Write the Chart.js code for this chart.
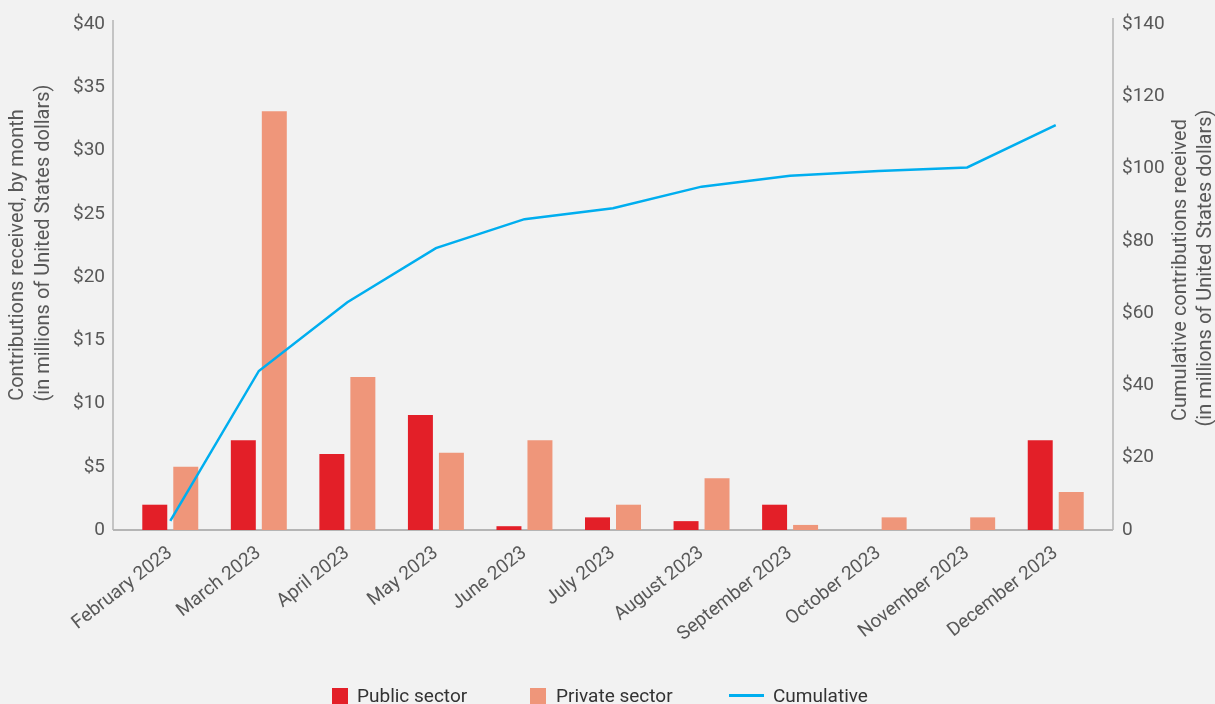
<!DOCTYPE html>
<html>
<head>
<meta charset="utf-8">
<script src="https://cdn.jsdelivr.net/npm/chart.js@4"></script>
<style>
  html, body { margin: 0; padding: 0; background: #f2f2f2; }
  #wrap { position: relative; width: 1215px; height: 704px; overflow: hidden; }
  #legend { position: absolute; top: 685px; left: 0; width: 1215px; height: 22px;
            font-family: Roboto, "Liberation Sans", sans-serif; font-size: 19px; color: #333; }
  .item { position: absolute; top: 0; height: 22px; line-height: 22px; white-space: nowrap; }
  .sw { display: inline-block; vertical-align: middle; position: relative; top: -1px; }
</style>
</head>
<body>
<div id="wrap">
  <canvas id="myChart" width="1215" height="704"></canvas>
  <div id="legend">
    <div class="item" style="left:332px"><span class="sw" style="width:16px;height:16px;background:#e31f28;margin-right:9px"></span>Public sector</div>
    <div class="item" style="left:530px"><span class="sw" style="width:16px;height:16px;background:#ef967a;margin-right:10px"></span>Private sector</div>
    <div class="item" style="left:729px"><span class="sw" style="width:35px;height:3px;background:#00aeef;margin-right:9px"></span>Cumulative</div>
  </div>
</div>
<script>
// data
const months = ['February 2023', 'March 2023', 'April 2023', 'May 2023', 'June 2023', 'July 2023',
  'August 2023', 'September 2023', 'October 2023', 'November 2023', 'December 2023'];
const publicSector = [2, 7.1, 6, 9.1, 0.3, 1, 0.7, 2, 0, 0, 7.1];
const privateSector = [5, 33.1, 12.1, 6.1, 7.1, 2, 4.1, 0.4, 1, 1, 3];
const cumulative = [2.5, 44, 63, 78, 86, 89, 95, 98, 99.3, 100.3, 112];

const leftTitle = ['Contributions received, by month', '(in millions of United States dollars)'];
const rightTitle = ['Cumulative contributions received', '(in millions of United States dollars)'];

const FONT = "Roboto, 'Liberation Sans', sans-serif";
const GREY = '#585858';

// axis lines + rotated titles
const axisPlugin = {
  id: 'axisPlugin',
  beforeDatasetsDraw(chart) {
    const ctx = chart.ctx, a = chart.chartArea;
    const l = a.left - 13, r = a.right + 13;
    ctx.save();
    ctx.strokeStyle = '#b5b5b5';
    ctx.lineWidth = 1.5;
    ctx.beginPath();
    ctx.moveTo(l, 20); ctx.lineTo(l, a.bottom);
    ctx.moveTo(r, 18); ctx.lineTo(r, a.bottom);
    ctx.stroke();
    ctx.lineWidth = 2;
    ctx.beginPath();
    ctx.moveTo(l, a.bottom); ctx.lineTo(r, a.bottom);
    ctx.stroke();
    ctx.restore();
  },
  afterDraw(chart) {
    const ctx = chart.ctx;
    ctx.save();
    ctx.fillStyle = GREY;
    ctx.font = '20px ' + FONT;
    ctx.textAlign = 'center';
    ctx.textBaseline = 'middle';
    const put = (txt, x, y) => {
      ctx.save(); ctx.translate(x, y); ctx.rotate(-Math.PI / 2);
      ctx.fillText(txt, 0, 0); ctx.restore();
    };
    put(leftTitle[0], 18, 255);
    put(leftTitle[1], 44, 243);
    put(rightTitle[0], 1181, 270);
    put(rightTitle[1], 1206, 268);
    ctx.restore();
  }
};

const data = {
  labels: months,
  datasets: [{
    type: 'line',
    label: 'Cumulative',
    data: cumulative,
    yAxisID: 'y1',
    borderColor: '#00aeef',
    borderWidth: 2.5,
    pointRadius: 0,
    tension: 0,
    order: 0
  }, {
    label: 'Public sector',
    data: publicSector,
    backgroundColor: '#e31f28',
    yAxisID: 'y',
    order: 1,
    categoryPercentage: 0.7,
    barPercentage: 0.806
  }, {
    label: 'Private sector',
    data: privateSector,
    backgroundColor: '#ef967a',
    yAxisID: 'y',
    order: 1,
    categoryPercentage: 0.7,
    barPercentage: 0.806
  }]
};

const config = {
  type: 'bar',
  data,
  plugins: [axisPlugin],
  options: {
    responsive: false,
    animation: false,
    layout: { padding: { top: 24, left: 0, right: 0, bottom: 0 } },
    scales: {
      x: {
        grid: { display: false, drawTicks: false },
        border: { display: false },
        afterFit: (s) => { s.height = 704 - 530; },
        ticks: {
          color: GREY,
          padding: 12,
          minRotation: 38,
          maxRotation: 38,
          autoSkip: false,
          font: { size: 19, family: FONT }
        }
      },
      y: {
        position: 'left',
        min: 0,
        max: 40,
        grid: { display: false, drawTicks: true, tickLength: 21 },
        border: { display: false },
        afterFit: (s) => { s.width = 126; },
        ticks: {
          stepSize: 5,
          color: GREY,
          padding: 0,
          font: { size: 19, family: FONT },
          callback: (v) => v === 0 ? '0' : '$' + v
        }
      },
      y1: {
        position: 'right',
        min: 0,
        max: 140,
        grid: { display: false, drawTicks: true, tickLength: 22 },
        border: { display: false },
        afterFit: (s) => { s.width = 115; },
        ticks: {
          stepSize: 20,
          color: GREY,
          padding: 0,
          font: { size: 19, family: FONT },
          callback: (v) => v === 0 ? '0' : '$' + v
        }
      }
    },
    plugins: {
      legend: { display: false },
      tooltip: { enabled: false }
    }
  }
};

const myChart = new Chart(document.getElementById('myChart'), config);
</script>
</body>
</html>
